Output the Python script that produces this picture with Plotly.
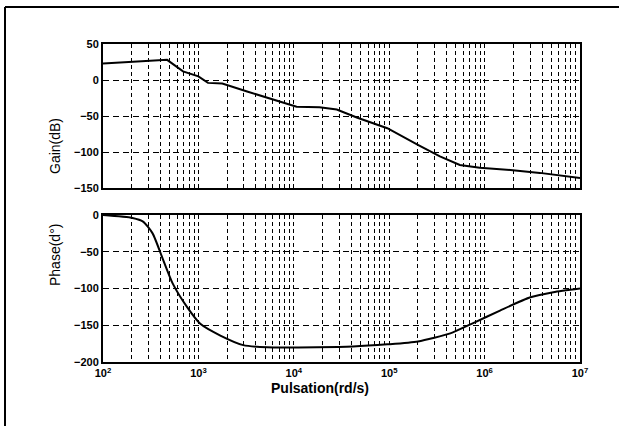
import plotly.graph_objects as go
from plotly.subplots import make_subplots

# Gain curve (pulsation in rd/s, gain in dB)
gain_w = [100, 470, 690, 1000, 1260, 1780, 3240, 10700, 18600, 28200, 45700,
          95500, 2.0e5, 3.4e5, 5.5e5, 8.9e5, 1.86e6, 3.8e6, 1e7]
gain_db = [23, 28, 12, 5, -4, -5, -16, -37, -38, -41, -52,
           -67, -90, -106, -118, -122, -125, -129, -136]

# Phase curve (pulsation in rd/s, phase in degrees)
phase_w = [100, 204, 263, 331, 427, 537, 759, 1047, 1700, 2950, 5250, 17400,
           41700, 95500, 2.0e5, 4.37e5, 7.59e5, 1.45e6, 3.02e6, 5.25e6, 1e7]
phase_deg = [0, -4, -9, -25, -61, -93, -125, -148, -164, -177, -180, -180,
             -179, -176, -172, -161, -147, -130, -112, -105, -100]

x_tickvals = [1e2, 1e3, 1e4, 1e5, 1e6, 1e7]
x_ticktext = ["10<sup>2</sup>", "10<sup>3</sup>", "10<sup>4</sup>",
              "10<sup>5</sup>", "10<sup>6</sup>", "10<sup>7</sup>"]
minor_vals = [k * 10 ** n for n in range(2, 7) for k in range(2, 10)]

gain_ticks = [50, 0, -50, -100, -150]
phase_ticks = [0, -50, -100, -150, -200]

W, H = 619, 433
ml, mr, mt, mb = 103, 39, 44, 71
ph = H - mt - mb
pw = W - ml - mr

def py(pix):
    return 1 - (pix - mt) / ph

def px(pix):
    return (pix - ml) / pw

fig = make_subplots(rows=2, cols=1)

fig.add_trace(go.Scatter(x=gain_w, y=gain_db, mode="lines",
                         line=dict(color="black", width=2)), row=1, col=1)
fig.add_trace(go.Scatter(x=phase_w, y=phase_deg, mode="lines",
                         line=dict(color="black", width=2, shape="spline", smoothing=0.6)),
              row=2, col=1)

tickfont = dict(family="Liberation Sans", size=11, color="black", weight="bold")

common_x = dict(type="log", range=[2, 7], showline=True, linewidth=2, linecolor="black",
                mirror=True, tickvals=x_tickvals, ticktext=x_ticktext,
                showgrid=True, gridcolor="black", gridwidth=1, griddash="4px,3px",
                minor=dict(tickvals=minor_vals, showgrid=True, gridcolor="black",
                           gridwidth=1, griddash="4px,3px", ticks=""),
                ticks="", tickfont=tickfont, zeroline=False)

fig.update_xaxes(**common_x, showticklabels=False, row=1, col=1)
fig.update_xaxes(**common_x, showticklabels=True, row=2, col=1)

common_y = dict(showline=True, linewidth=2, linecolor="black", mirror=True,
                showgrid=True, gridcolor="black", gridwidth=1, griddash="6px,4px",
                zeroline=False, ticks="", tickfont=tickfont)
fig.update_yaxes(**common_y, range=[-150, 50], tickvals=gain_ticks, row=1, col=1)
fig.update_yaxes(**common_y, range=[-200, 0], tickvals=phase_ticks, row=2, col=1)

fig.update_layout(
    yaxis=dict(domain=[py(188), 1.0]),
    yaxis2=dict(domain=[0.0, py(215)]),
)

title_font = dict(family="Liberation Sans", size=14, color="black")
fig.add_annotation(text="Gain(dB)", xref="paper", yref="paper",
                   x=px(45), y=py(116), textangle=-90,
                   showarrow=False, font=title_font)
fig.add_annotation(text="Phase(d°)", xref="paper", yref="paper",
                   x=px(45), y=py(288), textangle=-90,
                   showarrow=False, font=title_font)
fig.add_annotation(text="<b>Pulsation(rd/s)</b>", xref="paper", yref="paper",
                   x=px(320), y=py(398),
                   showarrow=False, font=title_font)

fig.add_shape(type="line", xref="paper", yref="paper",
              x0=px(5), x1=px(W), y0=py(7), y1=py(7),
              line=dict(color="black", width=2))
fig.add_shape(type="line", xref="paper", yref="paper",
              x0=px(5), x1=px(5), y0=py(7), y1=py(426),
              line=dict(color="black", width=2))

fig.update_layout(width=W, height=H, margin=dict(l=ml, r=mr, t=mt, b=mb),
                  plot_bgcolor="white", paper_bgcolor="white", showlegend=False,
                  font=dict(family="Liberation Sans", color="black"))

fig.write_html("out.html", config={"displayModeBar": False},
               post_script="document.body.style.margin='0';document.body.style.overflow='hidden';")
